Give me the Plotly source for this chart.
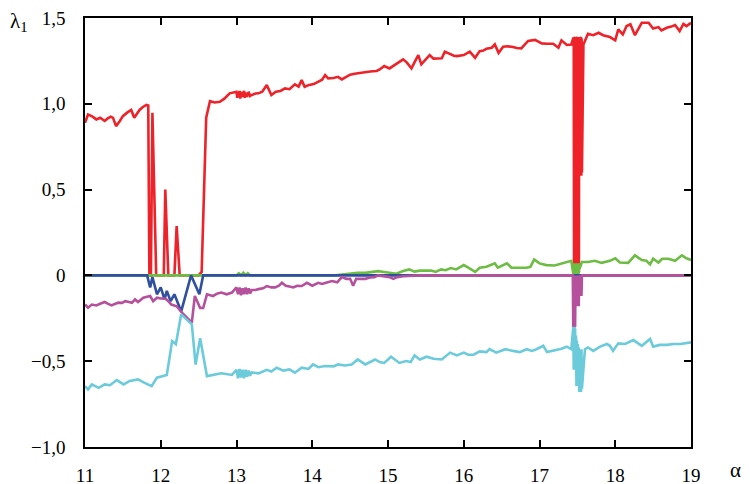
import plotly.graph_objects as go

# ---------------- data ----------------
red_x = [11.00, 11.04, 11.10, 11.15, 11.20, 11.26, 11.30, 11.34, 11.37, 11.41, 11.46, 11.50, 11.56, 11.61,
         11.65, 11.72, 11.76, 11.81, 11.835, 11.85, 11.87, 11.89, 11.94, 12.04, 12.06, 12.10, 12.18, 12.21,
         12.25, 12.50, 12.54, 12.60, 12.65, 12.71, 12.78, 12.84, 12.91, 12.97,
         13.00, 13.01, 13.02, 13.03, 13.04, 13.05, 13.06, 13.08, 13.10, 13.11, 13.12, 13.14, 13.16, 13.18, 13.20,
         13.25, 13.29, 13.34, 13.40, 13.46, 13.52, 13.58, 13.64, 13.70, 13.77, 13.82, 13.86, 13.90, 13.96,
         14.02, 14.08, 14.13, 14.17, 14.21, 14.28, 14.34, 14.39, 14.45, 14.50, 14.56, 14.62, 14.68, 14.74,
         14.80, 14.85, 14.89, 14.95, 15.02, 15.11, 15.20, 15.25, 15.31, 15.36, 15.40, 15.44, 15.50, 15.55,
         15.60, 15.65, 15.71, 15.75, 15.82, 15.87, 15.91, 16.00, 16.08, 16.15, 16.21, 16.26, 16.30, 16.37,
         16.41, 16.46, 16.52, 16.58, 16.65, 16.70, 16.76, 16.80, 16.85, 16.94, 16.98, 17.03, 17.10, 17.18,
         17.25, 17.29, 17.36, 17.42,
         17.444, 17.448, 17.452, 17.456, 17.460, 17.464, 17.468, 17.472, 17.476, 17.480, 17.484, 17.488,
         17.492, 17.496, 17.500, 17.504, 17.508, 17.512, 17.516, 17.520, 17.524, 17.528, 17.532, 17.536,
         17.540, 17.544, 17.548, 17.552, 17.556, 17.560,
         17.58, 17.64, 17.71, 17.78, 17.84, 17.93, 18.00, 18.04, 18.10, 18.15, 18.20, 18.26, 18.35, 18.44,
         18.50, 18.57, 18.61, 18.68, 18.74, 18.79, 18.85, 18.90, 18.94, 19.00]
red_y = [0.89, 0.938, 0.925, 0.909, 0.919, 0.90, 0.915, 0.925, 0.918, 0.87, 0.90, 0.928, 0.95, 0.964,
         0.919, 0.964, 0.98, 0.993, 0.99, 0.0, 0.0, 0.948, 0.0, 0.0, 0.50, 0.0, 0.0, 0.287,
         0.0, 0.0, 0.02, 0.919, 1.016, 1.008, 1.012, 1.03, 1.061, 1.065,
         1.07, 1.035, 1.07, 1.04, 1.075, 1.03, 1.07, 1.04, 1.075, 1.035, 1.065, 1.04, 1.07, 1.045, 1.051,
         1.06, 1.061, 1.07, 1.109, 1.051, 1.07, 1.075, 1.090, 1.085, 1.113, 1.10, 1.138, 1.099, 1.11,
         1.115, 1.128, 1.14, 1.167, 1.148, 1.15, 1.157, 1.142, 1.16, 1.17, 1.175, 1.18, 1.182, 1.187,
         1.19, 1.191, 1.20, 1.22, 1.206, 1.23, 1.259, 1.24, 1.206, 1.25, 1.284, 1.23, 1.26, 1.284,
         1.263, 1.262, 1.265, 1.304, 1.292, 1.28, 1.278, 1.284, 1.304, 1.268, 1.307, 1.31, 1.321, 1.327,
         1.346, 1.297, 1.333, 1.335, 1.331, 1.325, 1.323, 1.34, 1.366, 1.372, 1.365, 1.352, 1.35, 1.350,
         1.327, 1.370, 1.343, 1.346,
         1.38, 0.03, 1.385, 0.02, 1.38, 0.03, 1.39, 0.02, 1.38, 0.03, 1.385, 0.02,
         1.38, 0.03, 1.39, 0.02, 1.38, 0.03, 1.385, 0.02, 1.38, 0.58, 1.385, 0.58,
         1.38, 0.58, 1.39, 0.58, 1.38, 0.60,
         1.346, 1.408, 1.400, 1.414, 1.400, 1.389, 1.370, 1.434, 1.404, 1.453, 1.463, 1.400, 1.472, 1.472,
         1.439, 1.447, 1.428, 1.443, 1.45, 1.459, 1.424, 1.466, 1.453, 1.472]

green_x = [11.00, 13.00, 13.03, 13.06, 13.09, 13.12, 13.15, 13.18, 13.22, 14.30, 14.39, 14.50, 14.60,
           14.70, 14.80, 14.87, 14.95, 15.02, 15.11, 15.20, 15.28, 15.35, 15.42, 15.50, 15.57, 15.63,
           15.70, 15.76, 15.83, 15.90, 16.00, 16.06, 16.15, 16.21, 16.30, 16.41, 16.45, 16.57, 16.63,
           16.69, 16.83, 16.88, 16.93, 17.00, 17.09, 17.20, 17.29, 17.36, 17.42,
           17.446, 17.452, 17.458, 17.464, 17.470, 17.476, 17.482, 17.488, 17.494, 17.500, 17.506,
           17.512, 17.518, 17.524, 17.530,
           17.56, 17.64, 17.73, 17.82, 17.93, 18.00, 18.06, 18.17, 18.26, 18.35, 18.41, 18.46, 18.50,
           18.57, 18.62, 18.70, 18.79, 18.88, 18.94, 19.00]
green_y = [0.0, 0.0, 0.012, 0.0, 0.015, 0.0, 0.012, 0.0, 0.0, 0.0, 0.005, 0.01, 0.015,
           0.015, 0.02, 0.025, 0.02, 0.015, 0.01, 0.025, 0.035, 0.022, 0.028, 0.028, 0.028, 0.02,
           0.035, 0.03, 0.043, 0.035, 0.06, 0.045, 0.02, 0.045, 0.05, 0.07, 0.045, 0.07, 0.045,
           0.045, 0.045, 0.05, 0.093, 0.07, 0.06, 0.058, 0.07, 0.078, 0.085,
           0.01, 0.07, 0.0, 0.06, 0.01, 0.07, 0.0, 0.06, 0.01, 0.07, 0.0,
           0.06, 0.01, 0.07, 0.04,
           0.078, 0.078, 0.085, 0.073, 0.085, 0.10, 0.075, 0.073, 0.117, 0.09, 0.085, 0.064, 0.097,
           0.075, 0.097, 0.097, 0.085, 0.117, 0.10, 0.09]

blue_x = [11.00, 11.82, 11.86, 11.89, 11.95, 12.00, 12.05, 12.08, 12.13, 12.18, 12.27, 12.40, 12.45,
          12.51, 12.56, 19.00]
blue_y = [0.0, 0.0, -0.07, -0.01, -0.11, -0.07, -0.14, -0.09, -0.15, -0.11, -0.21, 0.0, -0.05,
          -0.11, 0.0, 0.0]

magenta_x = [11.00, 11.04, 11.09, 11.15, 11.20, 11.26, 11.30, 11.35, 11.40, 11.44, 11.49, 11.53, 11.58,
             11.62, 11.66, 11.70, 11.77, 11.82, 11.86, 11.90, 11.95, 12.00, 12.06, 12.10, 12.14, 12.21,
             12.28, 12.41, 12.45, 12.52, 12.56, 12.61, 12.69, 12.75, 12.80, 12.87, 12.94,
             13.00, 13.02, 13.04, 13.06, 13.08, 13.10, 13.12, 13.14, 13.16, 13.18, 13.20,
             13.25, 13.29, 13.35, 13.40, 13.46, 13.51, 13.56, 13.60, 13.65, 13.70, 13.75, 13.80, 13.86,
             13.93, 14.00, 14.08, 14.13, 14.17, 14.26, 14.33, 14.39, 14.45, 14.50, 14.54, 14.58, 14.64,
             14.70, 14.76, 14.82, 14.87, 14.95, 15.02, 15.07, 15.12, 15.20, 15.40, 17.44,
             17.446, 17.452, 17.458, 17.464, 17.470, 17.476, 17.482, 17.488, 17.494, 17.500, 17.506,
             17.512, 17.518, 17.524, 17.530, 17.536, 17.542, 17.548, 17.554, 17.560,
             17.57, 19.00]
magenta_y = [-0.169, -0.188, -0.17, -0.175, -0.165, -0.155, -0.165, -0.175, -0.165, -0.159, -0.16, -0.15,
             -0.155, -0.16, -0.14, -0.155, -0.13, -0.125, -0.12, -0.15, -0.13, -0.135, -0.135, -0.15,
             -0.17, -0.18, -0.217, -0.275, -0.12, -0.19, -0.19, -0.11, -0.12, -0.105, -0.10, -0.11, -0.10,
             -0.07, -0.11, -0.07, -0.115, -0.075, -0.11, -0.07, -0.11, -0.075, -0.105, -0.085,
             -0.085, -0.08, -0.075, -0.062, -0.07, -0.07, -0.06, -0.043, -0.06, -0.065, -0.07, -0.06,
             -0.062, -0.043, -0.06, -0.043, -0.05, -0.045, -0.033, -0.04, -0.01, -0.02, -0.02, -0.06,
             -0.02, -0.02, -0.02, -0.012, -0.01, 0.0, -0.005, -0.01, -0.02, -0.01, -0.005, 0.0, 0.0,
             -0.31, 0.0, -0.31, 0.0, -0.30, 0.0, -0.18, 0.0, -0.18, 0.0, -0.18,
             0.0, -0.18, 0.0, -0.12, 0.0, -0.12, 0.0, -0.12, 0.0,
             0.0, 0.0]

cyan_x = [11.00, 11.04, 11.09, 11.18, 11.26, 11.33, 11.42, 11.51, 11.59, 11.70, 11.78, 11.88, 11.95,
          12.03, 12.08, 12.15, 12.20, 12.27, 12.41, 12.46, 12.52, 12.61, 12.70, 12.80, 12.94,
          13.00, 13.02, 13.04, 13.06, 13.08, 13.10, 13.12, 13.14, 13.16, 13.18, 13.20,
          13.29, 13.40, 13.46, 13.53, 13.62, 13.70, 13.77, 13.86, 13.95, 14.01, 14.08, 14.17, 14.28,
          14.34, 14.43, 14.52, 14.60, 14.70, 14.83, 14.89, 14.95, 15.04, 15.15, 15.24, 15.30, 15.35,
          15.42, 15.51, 15.60, 15.71, 15.82, 15.91, 16.00, 16.06, 16.13, 16.21, 16.30, 16.34, 16.43,
          16.55, 16.65, 16.74, 16.83, 16.90, 16.96, 17.05, 17.10, 17.18, 17.29, 17.36, 17.42,
          17.446, 17.452, 17.458, 17.464, 17.470, 17.476, 17.482, 17.488, 17.494, 17.500, 17.506,
          17.512, 17.518, 17.524, 17.530, 17.536, 17.542, 17.548, 17.554, 17.560,
          17.60, 17.64, 17.71, 17.80, 17.89, 17.93, 17.97, 18.04, 18.13, 18.24, 18.35, 18.46, 18.50,
          18.59, 18.68, 18.77, 18.86, 19.00]
cyan_y = [-0.645, -0.665, -0.635, -0.655, -0.635, -0.64, -0.61, -0.635, -0.615, -0.606, -0.625, -0.645,
          -0.596, -0.587, -0.58, -0.383, -0.40, -0.227, -0.285, -0.52, -0.366, -0.587, -0.577, -0.57,
          -0.58,
          -0.55, -0.60, -0.545, -0.595, -0.55, -0.60, -0.55, -0.59, -0.555, -0.585, -0.565,
          -0.571, -0.55, -0.56, -0.538, -0.555, -0.548, -0.567, -0.538, -0.545, -0.519, -0.535, -0.528,
          -0.53, -0.519, -0.525, -0.519, -0.49, -0.519, -0.49, -0.505, -0.51, -0.474, -0.51, -0.499,
          -0.505, -0.466, -0.49, -0.474, -0.486, -0.49, -0.45, -0.466, -0.45, -0.462, -0.462, -0.443,
          -0.447, -0.43, -0.45, -0.43, -0.44, -0.447, -0.43, -0.44, -0.43, -0.41, -0.447, -0.44, -0.427,
          -0.415, -0.43,
          -0.30, -0.55, -0.30, -0.55, -0.31, -0.55, -0.35, -0.645, -0.38, -0.645, -0.40,
          -0.645, -0.42, -0.68, -0.43, -0.68, -0.43, -0.68, -0.43, -0.66,
          -0.43, -0.42, -0.44, -0.415, -0.40, -0.41, -0.44, -0.396, -0.40, -0.377, -0.41, -0.37, -0.415,
          -0.405, -0.405, -0.40, -0.40, -0.39]

x_ticks = [11, 12, 13, 14, 15, 16, 17, 18, 19]
x_labels = ["11", "12", "13", "14", "15", "16", "17", "18", "19"]
y_ticks = [-1.0, -0.5, 0.0, 0.5, 1.0, 1.5]
y_labels = ["\u22121,0", "\u22120,5", "0", "0,5", "1,0", "1,5"]

# ---------------- figure ----------------
series = [
    (red_x, red_y, "#ee2229"),
    (green_x, green_y, "#6dbd45"),
    (blue_x, blue_y, "#2f4f9f"),
    (magenta_x, magenta_y, "#b5509d"),
    (cyan_x, cyan_y, "#6ccbdb"),
]

fig = go.Figure()
for xs, ys, col in series:
    fig.add_trace(go.Scatter(x=xs, y=ys, mode="lines",
                             line=dict(color=col, width=2.6), showlegend=False,
                             hoverinfo="skip"))

SERIF = "Liberation Serif"
tick_font = dict(family=SERIF, size=19, color="black")
axis_common = dict(showline=True, linecolor="black", linewidth=1.5, mirror="ticks",
                   ticks="inside", ticklen=7, tickwidth=1.5, tickcolor="black",
                   showgrid=False, zeroline=False, tickfont=tick_font, automargin=False)

fig.update_xaxes(range=[11, 19], tickvals=x_ticks, ticktext=x_labels,
                 ticklabelstandoff=10, **axis_common)
fig.update_yaxes(range=[-1.0, 1.5], tickvals=y_ticks, ticktext=y_labels,
                 ticklabelstandoff=14, **axis_common)

fig.update_layout(
    width=750, height=484,
    margin=dict(l=85, r=59, t=18, b=37, autoexpand=False),
    paper_bgcolor="white", plot_bgcolor="white",
    font=dict(family=SERIF, color="black"),
    annotations=[
        dict(text="λ<sub>1</sub>", xref="paper", yref="paper", x=-0.127, y=0.99,
             xanchor="left", yanchor="middle", showarrow=False,
             font=dict(family=SERIF, size=21, color="black")),
        dict(text="α", xref="paper", yref="paper", x=1.073, y=-0.054,
             xanchor="center", yanchor="middle", showarrow=False,
             font=dict(family=SERIF, size=21, color="black")),
    ],
)

fig.write_html("out.html", config={"displayModeBar": False},
               post_script="document.body.style.margin='0';document.body.style.overflow='hidden';")
